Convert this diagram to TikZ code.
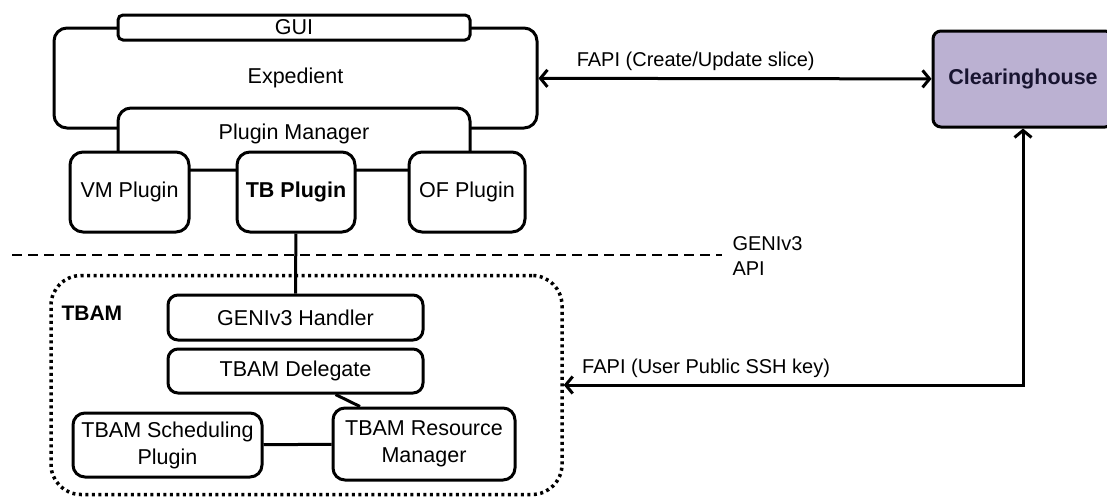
\documentclass[tikz,border=0pt]{standalone}
\usepackage{fontspec}
\setmainfont{Liberation Sans}
\usetikzlibrary{positioning,arrows.meta}
\definecolor{chfill}{RGB}{187,177,210}
\definecolor{chtext}{RGB}{24,20,48}

\begin{document}
\begin{tikzpicture}[x=1pt,y=-1pt,
	  txt/.style={font=\fontsize{20}{25}\selectfont},
	  boxtxt/.style={font=\fontsize{21.5}{27}\selectfont},
	  box/.style={boxtxt, draw, line width=3pt, rounded corners=13pt, fill=white, inner sep=0pt, align=center},
	  tbamframe/.style={draw, line width=3.5pt, dash pattern=on 3pt off 3.5pt, rounded corners=30pt},
	  conn/.style={line width=3pt},
	  api/.style={line width=3pt, >={Straight Barb[length=7pt,width=17pt]}, <->}]
	  \useasboundingbox (0,0) rectangle (1107,498);

	  % Define nodes
	  \node[box, minimum width=483, minimum height=100] (exp) at (295.5,78) {Expedient};
	  \node[box, rounded corners=5pt, minimum width=352, minimum height=25] (gui) at (294,27.5) {GUI};
	  \node[box, minimum width=352, minimum height=62] (pm) at (294,139) {};
	  \node[boxtxt] (pmlbl) at (294,134) {Plugin Manager};
	  \node[box, minimum width=118, minimum height=80] (tb) at (296,192) {\bfseries TB Plugin};
	  \node[box, minimum width=119, minimum height=80, left=45pt of tb] (vm) {VM Plugin};
	  \node[box, minimum width=116, minimum height=80, right=51pt of tb] (of) {OF Plugin};

	  \node[box, fill=chfill, rounded corners=8pt, minimum width=180, minimum height=96,
	        text=chtext, font=\fontsize{21.5}{27}\selectfont\bfseries] (ch) at (1023,79) {Clearinghouse};

	  \coordinate (apil) at (12,255);
	  \coordinate (apir) at (722,255);
	  \node[txt, anchor=west, align=left] (apilbl) at (729,256) {GENIv3\\API};

	  \node[tbamframe, minimum width=511, minimum height=219] (tbam) at (306.5,385) {};
	  \node[anchor=west, font=\fontsize{21}{26}\selectfont\bfseries] (tbamlbl) at (58,313) {TBAM};
	  \node[box, rounded corners=10pt, minimum width=255, minimum height=45] (hdl) at (295.5,317.5) {GENIv3 Handler};
	  \node[box, rounded corners=10pt, minimum width=255, minimum height=44, below=6pt of hdl] (del) {TBAM Delegate};
	  \node[box, rounded corners=12pt, minimum width=189, minimum height=64] (sched) at (167.5,445) {TBAM Scheduling\\Plugin};
	  \node[box, rounded corners=12pt, minimum width=182, minimum height=72] (rm) at (424,444) {TBAM Resource\\Manager};

	  % Connect the nodes
	  \draw[line width=1.2pt, dash pattern=on 10pt off 6pt] (apil) -- (apir);
	  \draw[conn] (tb) -- (hdl);
	  \draw[conn] ([xshift=40pt]del.south) -- ([xshift=-64pt]rm.north);
	  \draw[conn] (sched) -- (rm);
	  \draw[api] (exp) -- node[txt, pos=0.4, above=3pt] (slicelbl) {FAPI (Create/Update slice)} (ch);
	  \draw[api] (ch.south) -- (ch.south |- tbam.east) -- node[txt, pos=0.69, above=3pt] (sshlbl) {FAPI (User Public SSH key)} (tbam.east);
	\end{tikzpicture}
\end{document}
